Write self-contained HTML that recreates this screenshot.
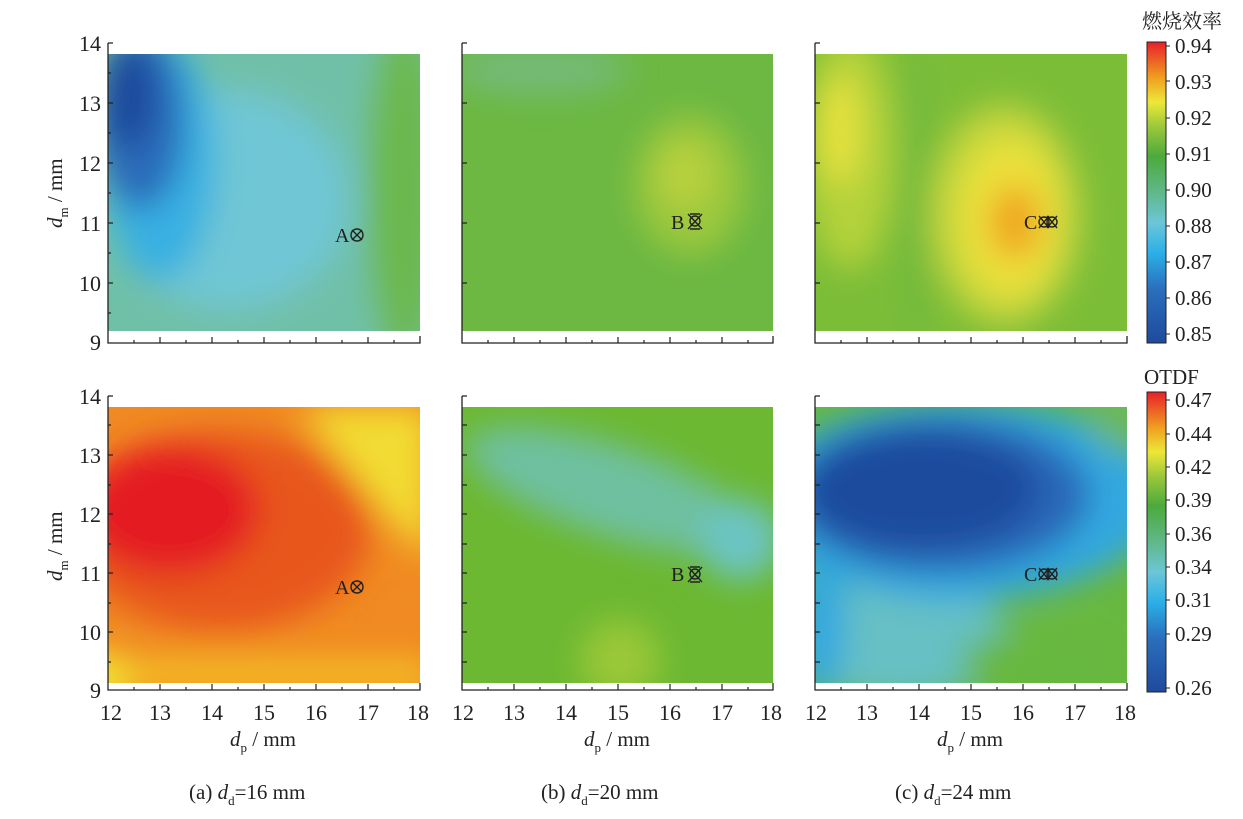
<!DOCTYPE html><html><head><style>body{margin:0;background:#fff}svg{display:block}text{font-family:"Liberation Serif","Noto Serif CJK SC",serif;fill:#222}</style></head><body>
<svg width="1243" height="819" viewBox="0 0 1243 819" xmlns="http://www.w3.org/2000/svg">
<defs>
<filter id="b" x="-50%" y="-50%" width="200%" height="200%"><feGaussianBlur stdDeviation="16"/></filter>
<clipPath id="c1"><rect x="108" y="54" width="312" height="277"/></clipPath>
<clipPath id="c2"><rect x="462" y="54" width="311" height="277"/></clipPath>
<clipPath id="c3"><rect x="815" y="54" width="312" height="277"/></clipPath>
<clipPath id="c4"><rect x="108" y="407" width="312" height="276"/></clipPath>
<clipPath id="c5"><rect x="462" y="407" width="311" height="276"/></clipPath>
<clipPath id="c6"><rect x="815" y="407" width="312" height="276"/></clipPath>
<linearGradient id="cb1" x1="0" y1="1" x2="0" y2="0">
<stop offset="0" stop-color="#1f4a9c"/><stop offset=".18" stop-color="#2a6fbd"/><stop offset=".3" stop-color="#2bb0e8"/><stop offset=".4" stop-color="#6cc6d6"/><stop offset=".5" stop-color="#5fb88a"/><stop offset=".62" stop-color="#4caa3c"/><stop offset=".72" stop-color="#9cc83a"/><stop offset=".8" stop-color="#ece838"/><stop offset=".88" stop-color="#f0a020"/><stop offset="1" stop-color="#e8202a"/></linearGradient>
</defs>
<!-- panel a top -->
<g clip-path="url(#c1)"><rect x="108" y="54" width="312" height="277" fill="#70c0a8"/>
<g filter="url(#b)"><ellipse cx="405" cy="190" rx="35" ry="170" fill="#6cb84e"/><ellipse cx="230" cy="200" rx="120" ry="110" fill="#70c6d4"/><ellipse cx="160" cy="160" rx="55" ry="120" fill="#38b0e2"/><ellipse cx="140" cy="120" rx="45" ry="90" fill="#2a6cba"/><ellipse cx="128" cy="95" rx="28" ry="55" fill="#1f4a9c"/></g></g>
<!-- b top -->
<g clip-path="url(#c2)"><rect x="462" y="54" width="311" height="277" fill="#6cb842"/>
<g filter="url(#b)"><ellipse cx="540" cy="70" rx="90" ry="25" fill="#74ba78"/><ellipse cx="690" cy="185" rx="55" ry="70" fill="#9cc83c"/><ellipse cx="685" cy="175" rx="25" ry="30" fill="#bcd23e"/></g></g>
<!-- c top -->
<g clip-path="url(#c3)"><rect x="815" y="54" width="312" height="277" fill="#7cbd38"/>
<g filter="url(#b)"><ellipse cx="850" cy="150" rx="45" ry="120" fill="#b4d23a"/><ellipse cx="840" cy="130" rx="20" ry="55" fill="#e8e23e"/><ellipse cx="1005" cy="215" rx="75" ry="110" fill="#c6d63c"/><ellipse cx="1010" cy="218" rx="50" ry="78" fill="#ece23a"/><ellipse cx="1015" cy="222" rx="26" ry="38" fill="#f0a622"/><ellipse cx="915" cy="200" rx="10" ry="160" fill="#6cb840"/></g></g>
<!-- a bottom -->
<g clip-path="url(#c4)"><rect x="108" y="407" width="312" height="276" fill="#f08a22"/>
<g filter="url(#b)"><path d="M300,407H430V560L390,520L340,460Z" fill="#f2dc30"/><ellipse cx="220" cy="530" rx="150" ry="100" fill="#e8561e"/><ellipse cx="170" cy="510" rx="90" ry="65" fill="#e41e20"/><rect x="100" y="660" width="330" height="30" fill="#f4c028"/><ellipse cx="100" cy="680" rx="30" ry="30" fill="#f2e030"/></g></g>
<!-- b bottom -->
<g clip-path="url(#c5)"><rect x="462" y="407" width="311" height="276" fill="#6cb832"/>
<g filter="url(#b)"><ellipse cx="610" cy="490" rx="150" ry="45" fill="#6ec0a0" transform="rotate(18 610 490)"/><ellipse cx="740" cy="540" rx="40" ry="40" fill="#6cc4c4"/><ellipse cx="620" cy="660" rx="40" ry="40" fill="#9ac838"/></g></g>
<!-- c bottom -->
<g clip-path="url(#c6)"><rect x="815" y="407" width="312" height="276" fill="#68b840"/>
<g filter="url(#b)"><ellipse cx="900" cy="640" rx="110" ry="60" fill="#66c0c4"/><ellipse cx="960" cy="500" rx="200" ry="100" fill="#30a8e0"/><ellipse cx="820" cy="620" rx="25" ry="80" fill="#30a8e0"/><ellipse cx="940" cy="495" rx="150" ry="78" fill="#2a68b8"/><ellipse cx="920" cy="490" rx="120" ry="60" fill="#1e4c9e"/><ellipse cx="1040" cy="660" rx="80" ry="30" fill="#68b840"/><ellipse cx="1120" cy="420" rx="30" ry="30" fill="#6ab860"/></g></g>
<!-- axes -->
<g stroke="#222" stroke-width="1.3" fill="none">
<path d="M108,43V343H420V336M462,43V343H773V336M815,43V343H1127V336M108,396V690H420V683M462,396V690H773V683M815,396V690H1127V683"/>
<path d="M108,43h5M108,103h5M108,163h5M108,223h5M108,283h5M108,73h3M108,133h3M108,193h3M108,253h3M108,313h3
M462,43h5M462,103h5M462,163h5M462,223h5M462,283h5M815,43h5M815,103h5M815,163h5M815,223h5M815,283h5
M108,396h5M108,455h5M108,514h5M108,573h5M108,632h5M108,425h3M108,485h3M108,544h3M108,603h3M108,662h3M462,396h5M462,425h5M462,455h5M462,485h5M462,514h5M462,544h5M462,573h5M462,603h5M462,632h5M462,662h5M815,396h5M815,425h5M815,455h5M815,485h5M815,514h5M815,544h5M815,573h5M815,603h5M815,632h5M815,662h5"/>
</g>
<g stroke="#222" stroke-width="1.2">
<g id="tx"><path d="M160,343v-6M212,343v-6M264,343v-6M316,343v-6M368,343v-6M134,343v-3M186,343v-3M238,343v-3M290,343v-3M342,343v-3M394,343v-3"/></g>
<use href="#tx" x="354"/><use href="#tx" x="707"/><use href="#tx" y="347"/><use href="#tx" x="354" y="347"/><use href="#tx" x="707" y="347"/>
</g>
<g font-size="22" text-anchor="end">
<text x="101" y="51">14</text><text x="101" y="111">13</text><text x="101" y="171">12</text><text x="101" y="231">11</text><text x="101" y="291">10</text><text x="101" y="350">9</text>
<text x="101" y="404">14</text><text x="101" y="463">13</text><text x="101" y="522">12</text><text x="101" y="581">11</text><text x="101" y="640">10</text><text x="101" y="698">9</text>
</g>
<g font-size="22" text-anchor="middle">
<text x="111" y="720">12</text><text x="160" y="720">13</text><text x="212" y="720">14</text><text x="264" y="720">15</text><text x="316" y="720">16</text><text x="368" y="720">17</text><text x="418" y="720">18</text>
<text x="463" y="720">12</text><text x="514" y="720">13</text><text x="566" y="720">14</text><text x="618" y="720">15</text><text x="670" y="720">16</text><text x="722" y="720">17</text><text x="771" y="720">18</text>
<text x="816" y="720">12</text><text x="867" y="720">13</text><text x="919" y="720">14</text><text x="971" y="720">15</text><text x="1023" y="720">16</text><text x="1075" y="720">17</text><text x="1125" y="720">18</text>
</g>
<g font-size="21">
<text x="230" y="746"><tspan font-style="italic">d</tspan><tspan font-size="13" dy="6">p</tspan><tspan dy="-6"> / mm</tspan></text>
<text x="584" y="746"><tspan font-style="italic">d</tspan><tspan font-size="13" dy="6">p</tspan><tspan dy="-6"> / mm</tspan></text>
<text x="937" y="746"><tspan font-style="italic">d</tspan><tspan font-size="13" dy="6">p</tspan><tspan dy="-6"> / mm</tspan></text>
<text transform="translate(62,228) rotate(-90)"><tspan font-style="italic">d</tspan><tspan font-size="13" dy="6">m</tspan><tspan dy="-6"> / mm</tspan></text>
<text transform="translate(62,581) rotate(-90)"><tspan font-style="italic">d</tspan><tspan font-size="13" dy="6">m</tspan><tspan dy="-6"> / mm</tspan></text>
<text x="189" y="799">(a)  <tspan font-style="italic">d</tspan><tspan font-size="13" dy="6">d</tspan><tspan dy="-6">=16 mm</tspan></text>
<text x="541" y="799">(b)  <tspan font-style="italic">d</tspan><tspan font-size="13" dy="6">d</tspan><tspan dy="-6">=20 mm</tspan></text>
<text x="895" y="799">(c)  <tspan font-style="italic">d</tspan><tspan font-size="13" dy="6">d</tspan><tspan dy="-6">=24 mm</tspan></text>
</g>
<!-- markers -->
<g font-size="20">
<text x="335" y="242">A</text><text x="335" y="594">A</text><text x="671" y="229">B</text><text x="671" y="581">B</text><text x="1024" y="229">C</text><text x="1024" y="581">C</text>
</g>
<g stroke="#222" stroke-width="1.4" fill="none">
<g id="mk"><circle cx="357" cy="235" r="6"/><path d="M352,230l10,10M362,230l-10,10"/></g>
<use href="#mk" y="352"/>
<g id="mk2"><path d="M688,214l14,15M702,214l-14,15M690,214h10M690,229h10"/><circle cx="695" cy="221" r="5"/></g>
<use href="#mk2" y="353"/>
<g id="mk3"><circle cx="1044" cy="222" r="5"/><circle cx="1052" cy="222" r="5"/><path d="M1039,216l10,12M1049,216l-10,12M1047,216l10,12M1057,216l-10,12"/></g>
<use href="#mk3" y="352"/>
</g>
<!-- colorbars -->
<rect x="1147" y="42" width="19" height="301" fill="url(#cb1)" stroke="#222"/>
<rect x="1147" y="392" width="19" height="300" fill="url(#cb1)" stroke="#222"/>
<g stroke="#222"><path d="M1166,46h4M1166,81h4M1166,118h4M1166,154h4M1166,190h4M1166,226h4M1166,262h4M1166,298h4M1166,334h4"/>
<path d="M1166,400h4M1166,434h4M1166,467h4M1166,500h4M1166,534h4M1166,567h4M1166,600h4M1166,634h4M1166,688h4"/></g>
<g font-size="21">
<text x="1142" y="28" font-family="'Noto Sans CJK SC',sans-serif" font-size="20">燃烧效率</text>
<text x="1175" y="53">0.94</text><text x="1175" y="89">0.93</text><text x="1175" y="125">0.92</text><text x="1175" y="161">0.91</text><text x="1175" y="197">0.90</text><text x="1175" y="233">0.88</text><text x="1175" y="269">0.87</text><text x="1175" y="305">0.86</text><text x="1175" y="341">0.85</text>
<text x="1144" y="384">OTDF</text>
<text x="1175" y="407">0.47</text><text x="1175" y="441">0.44</text><text x="1175" y="474">0.42</text><text x="1175" y="507">0.39</text><text x="1175" y="541">0.36</text><text x="1175" y="574">0.34</text><text x="1175" y="607">0.31</text><text x="1175" y="641">0.29</text><text x="1175" y="695">0.26</text>
</g>
</svg></body></html>
